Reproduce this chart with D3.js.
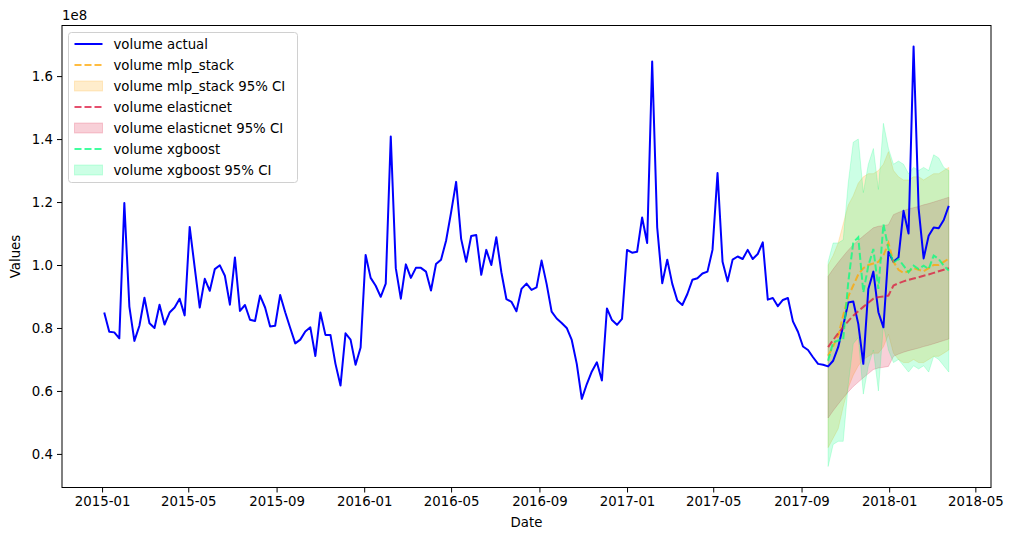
<!DOCTYPE html>
<html>
<head>
<meta charset="utf-8">
<script src="https://cdn.jsdelivr.net/npm/d3@7"></script>
<style>
  body { margin: 0; background: #fff; }
  svg { font-family: "DejaVu Sans", sans-serif; }
</style>
</head>
<body>
<svg id="chart" width="1014" height="540"></svg>
<script>
// values are in units of 1e8 (as the axis shows)
var startDate = new Date(2015, 0, 4);   // weekly series
var forecastStart = 144;                // index of first forecast week

var volumeActual = [
  0.849, 0.788, 0.786, 0.767, 1.197, 0.868, 0.759, 0.807, 0.896, 0.815,
  0.800, 0.874, 0.811, 0.849, 0.865, 0.893, 0.840, 1.121, 0.992, 0.865,
  0.956, 0.918, 0.987, 0.999, 0.966, 0.874, 1.024, 0.854, 0.873, 0.826,
  0.822, 0.903, 0.865, 0.805, 0.807, 0.905, 0.850, 0.800, 0.751, 0.763,
  0.789, 0.802, 0.711, 0.849, 0.778, 0.778, 0.686, 0.617, 0.783, 0.763,
  0.683, 0.738, 1.032, 0.959, 0.934, 0.899, 0.941, 1.408, 0.990, 0.893,
  1.002, 0.959, 0.991, 0.991, 0.979, 0.919, 1.003, 1.017, 1.077, 1.167,
  1.264, 1.083, 1.010, 1.092, 1.095, 0.969, 1.048, 1.000, 1.088, 0.977,
  0.892, 0.883, 0.853, 0.924, 0.941, 0.921, 0.929, 1.014, 0.940, 0.852,
  0.830, 0.816, 0.800, 0.762, 0.686, 0.575, 0.622, 0.662, 0.691, 0.633,
  0.862, 0.825, 0.810, 0.829, 1.048, 1.039, 1.042, 1.151, 1.070, 1.646,
  1.119, 0.942, 1.017, 0.940, 0.887, 0.873, 0.908, 0.953, 0.958, 0.973,
  0.979, 1.048, 1.292, 1.010, 0.948, 1.017, 1.027, 1.019, 1.048, 1.019,
  1.035, 1.072, 0.890, 0.895, 0.869, 0.889, 0.895, 0.821, 0.788, 0.741,
  0.730, 0.707, 0.686, 0.683, 0.678, 0.696, 0.739, 0.807, 0.881, 0.884,
  0.813, 0.686, 0.924, 0.979, 0.850, 0.802, 1.042, 1.010, 1.024, 1.172,
  1.100, 1.694, 1.180, 1.021, 1.093, 1.119, 1.117, 1.143, 1.188
];

var mlpPred = [0.712, 0.742, 0.775, 0.840, 0.900, 0.935, 0.970, 0.990, 1.000, 1.005,
  1.010, 1.030, 1.070, 1.010, 0.985, 0.975, 0.980, 0.990, 0.985, 0.980,
  0.990, 1.000, 1.000, 1.010, 1.020];
var mlpUpper = [1.00, 1.03, 1.07, 1.13, 1.19, 1.22, 1.26, 1.28, 1.29, 1.29,
  1.30, 1.32, 1.36, 1.30, 1.28, 1.27, 1.27, 1.28, 1.28, 1.27,
  1.28, 1.29, 1.29, 1.30, 1.31];
var mlpLower = [0.42, 0.45, 0.48, 0.55, 0.61, 0.65, 0.68, 0.70, 0.71, 0.72,
  0.72, 0.74, 0.78, 0.72, 0.70, 0.69, 0.69, 0.70, 0.69, 0.69,
  0.70, 0.71, 0.71, 0.72, 0.73];

var enetPred = [0.739, 0.762, 0.783, 0.803, 0.822, 0.839, 0.853, 0.867, 0.880, 0.893,
  0.898, 0.900, 0.903, 0.935, 0.942, 0.948, 0.953, 0.957, 0.961, 0.966,
  0.970, 0.975, 0.980, 0.985, 0.990];
var enetUpper = [0.964, 0.987, 1.008, 1.028, 1.047, 1.064, 1.078, 1.092, 1.105, 1.118,
  1.123, 1.125, 1.128, 1.160, 1.167, 1.173, 1.178, 1.182, 1.186, 1.191,
  1.195, 1.200, 1.205, 1.210, 1.215];
var enetLower = [0.514, 0.537, 0.558, 0.578, 0.597, 0.614, 0.628, 0.642, 0.655, 0.668,
  0.673, 0.675, 0.678, 0.710, 0.717, 0.723, 0.728, 0.732, 0.736, 0.741,
  0.745, 0.750, 0.755, 0.760, 0.765];

var xgbPred = [0.696, 0.754, 0.760, 0.763, 0.945, 1.072, 1.088, 0.913, 0.998, 1.051,
  0.924, 1.130, 1.051, 1.008, 1.019, 0.998, 0.977, 0.998, 0.987, 0.998,
  0.987, 1.030, 1.019, 0.998, 0.982];
var xgbUpper = [1.01, 1.07, 1.07, 1.08, 1.26, 1.39, 1.40, 1.23, 1.32, 1.37,
  1.24, 1.45, 1.37, 1.32, 1.33, 1.32, 1.29, 1.31, 1.30, 1.31,
  1.30, 1.35, 1.34, 1.31, 1.30];
var xgbLower = [0.36, 0.43, 0.44, 0.44, 0.62, 0.75, 0.77, 0.59, 0.68, 0.73,
  0.60, 0.81, 0.73, 0.69, 0.70, 0.68, 0.66, 0.68, 0.67, 0.68,
  0.66, 0.71, 0.70, 0.68, 0.66];

var yTicks = [0.4, 0.6, 0.8, 1.0, 1.2, 1.4, 1.6];

var models = [
  {name: 'mlp_stack', color: 'orange', pred: mlpPred, lo: mlpLower, hi: mlpUpper},
  {name: 'elasticnet', color: 'crimson', pred: enetPred, lo: enetLower, hi: enetUpper},
  {name: 'xgboost', color: 'springgreen', pred: xgbPred, lo: xgbLower, hi: xgbUpper}
];

(function () {
  var dates = volumeActual.map(function (d, i) {
    return d3.timeDay.offset(startDate, i * 7);
  });
  var actual = volumeActual.map(function (v, i) { return {date: dates[i], v: v}; });

  var svg = d3.select('#chart');
  var plotLeft = 62, plotRight = 991, plotTop = 25.5, plotBottom = 487.5;

  // matplotlib style 5% margins
  var xExt = d3.extent(dates);
  var xPad = (xExt[1] - xExt[0]) * 0.05;
  var x = d3.scaleTime()
    .domain([new Date(+xExt[0] - xPad), new Date(+xExt[1] + xPad)])
    .range([plotLeft, plotRight]);

  var allVals = volumeActual.concat(mlpLower, mlpUpper, enetLower, enetUpper, xgbLower, xgbUpper);
  var yExt = d3.extent(allVals);
  var yPad = (yExt[1] - yExt[0]) * 0.05;
  var y = d3.scaleLinear()
    .domain([yExt[0] - yPad, yExt[1] + yPad])
    .range([plotBottom, plotTop]);

  var line = d3.line()
    .x(function (d) { return x(d.date); })
    .y(function (d) { return y(d.v); });
  var area = d3.area()
    .x(function (d) { return x(d.date); })
    .y0(function (d) { return y(d.lo); })
    .y1(function (d) { return y(d.hi); });

  // fills sit below the lines (like matplotlib zorder)
  var fills = svg.append('g');
  var lines = svg.append('g');

  lines.append('path')
    .datum(actual)
    .attr('fill', 'none')
    .attr('stroke', 'blue')
    .attr('stroke-width', 2)
    .attr('stroke-linejoin', 'round')
    .attr('d', line);

  models.forEach(function (m) {
    var pts = m.pred.map(function (v, i) {
      return {date: dates[forecastStart + i], v: v, lo: m.lo[i], hi: m.hi[i]};
    });
    lines.append('path')
      .datum(pts)
      .attr('fill', 'none')
      .attr('stroke', m.color)
      .attr('stroke-opacity', 0.75)
      .attr('stroke-width', 2)
      .attr('stroke-dasharray', '7,3')
      .attr('d', line);

    fills.append('path')
      .datum(pts)
      .attr('fill', m.color)
      .attr('fill-opacity', 0.2)
      .attr('stroke', m.color)
      .attr('stroke-opacity', 0.2)
      .attr('stroke-width', 1)
      .attr('d', area);
  });

  // axes
  var xAxis = d3.axisBottom(x)
    .ticks(d3.timeMonth.every(4))
    .tickFormat(d3.timeFormat('%Y-%m'))
    .tickSize(5)
    .tickPadding(4);
  var gx = svg.append('g')
    .attr('transform', 'translate(0,' + plotBottom + ')')
    .call(xAxis);

  var yAxis = d3.axisLeft(y)
    .tickValues(yTicks)
    .tickFormat(d3.format('.1f'))
    .tickSize(5)
    .tickPadding(4);
  var gy = svg.append('g')
    .attr('transform', 'translate(' + plotLeft + ',0)')
    .call(yAxis);

  [gx, gy].forEach(function (g) {
    g.select('.domain').remove();
    g.selectAll('.tick line').attr('stroke', '#000').attr('stroke-width', 1);
    g.selectAll('.tick text').attr('fill', '#000').style('font-size', '13.3px')
      .style('font-family', '"DejaVu Sans", sans-serif');
  });

  svg.append('rect')
    .attr('x', plotLeft).attr('y', plotTop)
    .attr('width', plotRight - plotLeft).attr('height', plotBottom - plotTop)
    .attr('fill', 'none').attr('stroke', '#000').attr('stroke-width', 1);

  svg.append('text')
    .attr('x', plotLeft).attr('y', 20)
    .style('font-size', '13.3px')
    .text('1e8');

  svg.append('text')
    .attr('x', (plotLeft + plotRight) / 2).attr('y', 527)
    .attr('text-anchor', 'middle')
    .style('font-size', '13.3px')
    .text('Date');

  svg.append('text')
    .attr('transform', 'translate(20,' + ((plotTop + plotBottom) / 2) + ') rotate(-90)')
    .attr('text-anchor', 'middle')
    .style('font-size', '13.3px')
    .text('Values');

  // legend
  var legendItems = [{label: 'volume actual', color: 'blue', kind: 'solid'}];
  models.forEach(function (m) {
    legendItems.push({label: 'volume ' + m.name, color: m.color, kind: 'dash'});
    legendItems.push({label: 'volume ' + m.name + ' 95% CI', color: m.color, kind: 'fill'});
  });

  var lg = svg.append('g').attr('transform', 'translate(68.5,32.5)');
  lg.append('rect')
    .attr('width', 229).attr('height', 150)
    .attr('rx', 3)
    .attr('fill', '#fff').attr('fill-opacity', 0.8)
    .attr('stroke', '#d0d0d0');

  legendItems.forEach(function (it, i) {
    var cy = 11.5 + i * 21;
    var g = lg.append('g').attr('transform', 'translate(0,' + cy + ')');
    if (it.kind === 'fill') {
      g.append('rect')
        .attr('x', 6).attr('y', -5).attr('width', 28).attr('height', 10)
        .attr('fill', it.color).attr('fill-opacity', 0.2)
        .attr('stroke', it.color).attr('stroke-opacity', 0.2);
    } else {
      g.append('line')
        .attr('x1', 6).attr('x2', 34)
        .attr('stroke', it.color)
        .attr('stroke-width', 2)
        .attr('stroke-opacity', it.kind === 'dash' ? 0.75 : 1)
        .attr('stroke-dasharray', it.kind === 'dash' ? '7,3' : null);
    }
    g.append('text')
      .attr('x', 45).attr('y', 5)
      .style('font-size', '13.3px')
      .text(it.label);
  });
})();
</script>
</body>
</html>
